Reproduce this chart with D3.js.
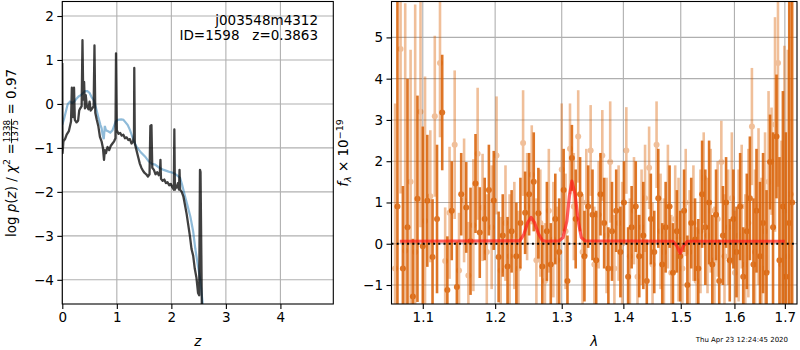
<!DOCTYPE html>
<html><head><meta charset="utf-8">
<script src="https://cdn.jsdelivr.net/npm/d3@7"></script>
<style>body{margin:0;background:#fff}svg{display:block}text{font-family:"DejaVu Sans",sans-serif;fill:#000}</style>
</head><body><svg id="c" width="800" height="350"></svg>
<script>
// ---- Left panel: log p(z) ----
const zDark=[0.000,0.005,0.02,0.05,0.08,0.12,0.16,0.175,0.19,0.205,0.215,0.23,0.26,0.29,0.31,0.33,0.355,0.37,0.385,0.40,0.415,0.43,0.45,0.48,0.50,0.52,0.55,0.575,0.59,0.605,0.63,0.66,0.69,0.72,0.745,0.765,0.78,0.80,0.83,0.86,0.89,0.92,0.95,0.975,0.985,1.0,1.03,1.06,1.09,1.12,1.15,1.18,1.21,1.24,1.27,1.30,1.315,1.32,1.33,1.36,1.39,1.42,1.45,1.48,1.51,1.54,1.57,1.60,1.615,1.625,1.635,1.65,1.68,1.71,1.74,1.77,1.79,1.80,1.81,1.84,1.87,1.90,1.93,1.96,1.99,2.02,2.045,2.055,2.065,2.08,2.10,2.12,2.14,2.15,2.16,2.19,2.22,2.25,2.28,2.31,2.34,2.37,2.40,2.43,2.46,2.49,2.51,2.525,2.535,2.56];
const logpDark=[0.93,-1.12,-0.85,-0.8,-0.7,-0.62,-0.4,0.37,-0.29,-0.3,0.37,-0.36,-0.42,-0.38,-0.15,-0.1,-0.05,1.45,0.1,0.5,-0.1,0.2,-0.05,-0.12,0.05,-0.15,-0.1,-0.05,1.33,-0.2,-0.35,-0.5,-0.75,-0.85,-1.0,-1.27,-1.05,-1.12,-0.98,-1.05,-0.95,-0.9,-0.85,-0.78,1.15,-0.6,-0.68,-0.66,-0.72,-0.7,-0.78,-0.76,-0.82,-0.8,-0.9,-0.85,-0.7,0.82,-0.9,-1.05,-1.2,-1.35,-1.45,-1.52,-1.57,-1.6,-1.65,-1.6,-0.5,-0.6,-0.48,-1.45,-1.5,-1.6,-1.55,-1.62,-1.55,-1.27,-1.7,-1.75,-1.72,-1.8,-1.78,-1.85,-1.82,-1.9,-1.95,-0.58,-1.95,-1.85,-1.9,-1.8,-1.95,-1.5,-1.95,-2.0,-2.1,-2.3,-2.5,-2.75,-3.0,-3.3,-3.45,-3.75,-3.95,-4.3,-4.35,-1.5,-1.55,-4.7];
const zBlue=[0.0,0.03,0.06,0.10,0.14,0.18,0.22,0.26,0.30,0.34,0.38,0.42,0.46,0.50,0.54,0.58,0.62,0.66,0.70,0.72,0.74,0.76,0.78,0.80,0.84,0.88,0.92,0.95,0.98,1.02,1.08,1.12,1.16,1.20,1.24,1.30,1.36,1.44,1.52,1.58,1.64,1.70,1.78,1.86,1.95,2.04,2.10,2.16,2.20,2.25,2.30,2.35,2.40,2.44,2.49,2.53,2.58];
const logpBlue=[-0.47,-0.35,-0.2,0.0,0.05,0.02,0.05,0.12,0.17,0.2,0.25,0.29,0.29,0.25,0.15,0.08,-0.1,-0.3,-0.48,-0.55,-0.7,-0.8,-0.5,-0.6,-0.62,-0.65,-0.6,-0.5,-0.4,-0.36,-0.35,-0.36,-0.42,-0.48,-0.59,-0.8,-0.97,-1.1,-1.2,-1.3,-1.36,-1.38,-1.45,-1.5,-1.54,-1.57,-1.62,-1.68,-1.85,-2.1,-2.33,-2.57,-2.9,-3.3,-3.7,-4.0,-4.6];
const leftXTicks=[0,1,2,3,4];
const leftYTicks=[-4,-3,-2,-1,0,1,2];

// ---- Right panel: spectrum ----
const waveA=[1.067,1.074,1.080,1.087,1.093,1.100,1.106,1.113,1.119,1.126,1.133,1.139,1.146,1.152,1.159,1.165,1.172,1.178,1.185,1.191,1.198,1.205,1.211,1.218,1.224,1.231,1.237,1.244,1.250,1.257,1.264,1.270,1.277,1.283,1.290,1.296,1.303,1.309,1.316,1.322,1.329,1.336,1.342,1.349,1.355,1.362,1.368,1.375,1.381,1.388,1.395,1.401,1.408,1.414,1.421,1.427,1.434,1.440,1.447,1.453,1.460,1.467,1.473,1.480,1.486,1.493,1.499,1.506,1.512,1.519,1.526,1.532,1.539,1.545,1.552,1.558,1.565,1.571,1.578,1.584,1.591,1.598,1.604,1.611,1.617,1.624,1.630,1.637,1.643,1.650,1.656,1.663,1.670,1.676,1.683,1.689,1.696,1.702,1.709,1.715];
const fluxA=[0.9,-0.6,0.4,-1.28,1.09,-0.06,1.04,-0.32,0.6,3.18,
-1.12,0.8,-1.05,1.2,0.88,0.06,1.46,0.27,0.6,1.3,
1.05,-0.32,0.2,-0.55,0.3,-0.3,0.5,0.75,1.2,1.5,
0.74,-0.55,0.3,-0.5,0.6,-0.2,1.3,-0.9,2.08,0.6,
1.2,-0.3,0.9,0.7,-0.4,1.2,0.5,-0.6,0.3,0.8,
-0.2,1.0,-0.8,0.4,0.9,-0.3,0.2,-0.9,0.6,-0.2,
1.1,-0.5,0.4,0.9,-0.7,0.3,-0.3,0.8,-1.0,0.5,
0.1,-0.6,1.2,0.4,1.0,-0.5,0.7,-0.9,0.2,1.0,
-0.4,0.6,-0.2,0.9,-0.8,0.3,1.1,-0.5,0.8,-0.3,
0.5,-0.7,1.98,0.4,2.6,-0.4,0.9,-0.8,0.5,1.0];
const errA=[9,2.0,3.6,1.4,2.5,2.9,1.6,1.4,1.8,1.4,
1.3,1.2,1.1,1.0,1.1,1.3,1.2,1.1,1.0,1.1,
1.2,1.1,1.0,1.2,1.0,1.3,1.1,1.0,1.0,1.2,
1.1,1.0,1.2,1.0,1.1,1.3,1.0,1.1,0.8,1.2,
0.9,1.1,1.0,1.1,1.2,1.0,1.1,1.0,1.2,1.0,
1.1,1.0,1.2,1.0,1.1,1.0,1.3,1.0,1.1,1.0,
1.2,1.0,1.1,1.0,1.2,1.0,1.1,1.0,1.2,1.1,
1.0,1.2,1.3,1.4,1.5,1.2,1.1,1.0,1.2,1.1,
1.0,1.2,1.1,1.3,1.2,1.4,1.5,1.6,1.5,1.8,
1.7,2.0,1.15,2.3,1.5,2.5,2.8,3.5,8,9];
const waveB=[1.064,1.071,1.077,1.084,1.090,1.097,1.103,1.110,1.116,1.123,1.130,1.136,1.143,1.149,1.156,1.162,1.169,1.175,1.182,1.188,1.195,1.202,1.208,1.215,1.221,1.228,1.234,1.241,1.247,1.254,1.261,1.267,1.274,1.280,1.287,1.293,1.300,1.306,1.313,1.319,1.326,1.333,1.339,1.346,1.352,1.359,1.365,1.372,1.378,1.385,1.392,1.398,1.405,1.411,1.418,1.424,1.431,1.437,1.444,1.450,1.457,1.464,1.470,1.477,1.483,1.490,1.496,1.503,1.509,1.516,1.523,1.529,1.536,1.542,1.549,1.555,1.562,1.568,1.575,1.581,1.588,1.595,1.601,1.608,1.614,1.621,1.627,1.634,1.640,1.647,1.653,1.660,1.667,1.673,1.680,1.686,1.693,1.699,1.706,1.712];
const fluxB=[-0.6,4.72,-0.17,1.5,-0.2,3.2,0.55,1.15,3.09,4.38,
-0.42,0.75,2.4,-0.65,1.05,-0.77,0.45,2.18,0.88,-0.2,
0.4,2.14,-0.65,0.5,-0.3,0.2,-0.6,2.44,0.9,1.67,
-0.4,0.5,-0.9,0.8,0.1,-0.4,1.8,0.3,2.3,0.9,
2.6,-0.2,1.0,2.26,-0.5,0.7,2.14,0.2,1.98,-0.6,
0.5,0.0,2.26,-0.3,0.8,-0.8,0.4,1.1,1.84,-0.5,
2.4,0.3,-0.2,0.9,-0.7,0.6,0.1,-0.6,1.0,-0.2,
0.5,-0.9,0.3,1.6,0.2,0.8,-0.4,0.6,1.98,-0.3,
0.4,1.1,-0.7,0.2,0.9,-0.5,0.5,2.84,-0.2,0.9,
-0.6,0.3,1.5,2.0,2.89,4.38,-0.5,0.8,-0.3,1.2];
const errB=[4.0,3.5,6.0,3.2,6.0,2.8,3.5,1.6,1.95,1.8,
1.3,1.6,1.8,1.4,1.5,1.3,1.6,1.6,1.3,1.4,
1.5,1.43,1.3,1.4,1.5,1.3,1.4,1.28,1.3,1.2,
1.5,1.3,1.4,1.5,1.4,1.3,1.6,1.4,1.1,1.3,
1.12,1.4,1.3,1.1,1.4,1.3,1.1,1.4,1.47,1.3,
1.4,1.5,1.05,1.4,1.3,1.5,1.4,1.3,1.0,1.5,
1.05,1.4,1.3,1.5,1.4,1.3,1.5,1.4,1.3,1.5,
1.4,1.3,1.5,1.1,1.4,1.5,1.3,1.4,1.0,1.5,
1.4,1.6,1.5,1.6,1.5,1.7,1.8,1.42,2.0,1.9,
2.2,2.4,2.2,1.3,2.6,3.0,3.0,4.0,5.0,6.0];
const modelWave=[1.070,1.236,1.242,1.248,1.253,1.258,1.264,1.270,1.276,1.296,1.302,1.308,1.312,1.316,1.321,1.326,1.331,1.337,1.486,1.493,1.499,1.505,1.512,1.700];
const modelFlux=[0.06,0.07,0.22,0.52,0.64,0.52,0.25,0.08,0.06,0.07,0.15,0.55,1.15,1.52,1.2,0.55,0.15,0.07,0.06,-0.05,-0.23,-0.05,0.06,0.06];
const rightXTicks=[1.1,1.2,1.3,1.4,1.5,1.6,1.7];
const rightYTicks=[-1,0,1,2,3,4,5];

const svg=d3.select("#c");
const FS=13.5;
const L={x0:62.3,x1:333.3,y0:1.5,y1:304};
const R={x0:391.5,x1:797,y0:1.5,y1:304};
const xL=d3.scaleLinear().domain([0,4.97]).range([L.x0,L.x1]);
const yL=d3.scaleLinear().domain([-4.55,2.33]).range([L.y1,L.y0]);
const xR=d3.scaleLog().domain([1.0594,1.725]).range([R.x0,R.x1]);
const yR=d3.scaleLinear().domain([-1.46,5.87]).range([R.y1,R.y0]);

const defs=svg.append("defs");
[["clipL",L],["clipR",R]].forEach(([id,b])=>{
  defs.append("clipPath").attr("id",id).append("rect").attr("x",b.x0).attr("y",b.y0).attr("width",b.x1-b.x0).attr("height",b.y1-b.y0);
});

function grid(b,xs,ys,xt,yt){
  const g=svg.append("g").attr("stroke","#b0b0b0").attr("stroke-width",1.1);
  xt.forEach(t=>g.append("line").attr("x1",xs(t)).attr("x2",xs(t)).attr("y1",b.y0).attr("y2",b.y1));
  yt.forEach(t=>g.append("line").attr("x1",b.x0).attr("x2",b.x1).attr("y1",ys(t)).attr("y2",ys(t)));
}
function axes(b,xs,ys,xt,yt,fx,fy){
  const ax=svg.append("g").attr("transform",`translate(0,${b.y1})`)
    .call(d3.axisBottom(xs).tickValues(xt).tickSize(5).tickPadding(3.5).tickFormat(fx));
  const ay=svg.append("g").attr("transform",`translate(${b.x0},0)`)
    .call(d3.axisLeft(ys).tickValues(yt).tickSize(5).tickPadding(3.5).tickFormat(fy));
  [ax,ay].forEach(a=>{a.select(".domain").remove();a.selectAll("text").attr("font-size",FS).attr("font-family","DejaVu Sans");a.selectAll("line").attr("stroke","#000").attr("stroke-width",1.1);});
  svg.append("rect").attr("x",b.x0).attr("y",b.y0).attr("width",b.x1-b.x0).attr("height",b.y1-b.y0)
    .attr("fill","none").attr("stroke","#000").attr("stroke-width",1.1);
}

// Left panel
grid(L,xL,yL,leftXTicks,leftYTicks);
const gL=svg.append("g").attr("clip-path","url(#clipL)");
const blue=d3.range(Math.min(zBlue.length,logpBlue.length)).map(i=>[zBlue[i],logpBlue[i]]);
const dark=d3.range(Math.min(zDark.length,logpDark.length)).map(i=>[zDark[i],logpDark[i]]);
gL.append("path").datum(blue).attr("d",d3.line().x(d=>xL(d[0])).y(d=>yL(d[1])))
  .attr("fill","none").attr("stroke","#1f77b4").attr("stroke-opacity",0.5).attr("stroke-width",2.2);
gL.append("path").datum(dark).attr("d",d3.line().x(d=>xL(d[0])).y(d=>yL(d[1])))
  .attr("fill","none").attr("stroke","#000").attr("stroke-opacity",0.75).attr("stroke-width",2.3).attr("stroke-linejoin","round");
axes(L,xL,yL,leftXTicks,leftYTicks,d3.format("d"),d3.format("d"));
svg.append("text").attr("x",318).attr("y",25).attr("text-anchor","end").attr("font-size",FS).text("j003548m4312");
svg.append("text").attr("x",318).attr("y",40).attr("text-anchor","end").attr("font-size",FS).style("white-space","pre").text("ID=1598   z=0.3863");
svg.append("text").attr("x",(L.x0+L.x1)/2).attr("y",346).attr("text-anchor","middle").attr("font-size",FS).attr("font-style","italic").text("z");

// left y label
{
  const g=svg.append("g").attr("transform","translate(15.5,153) rotate(-90)");
  const inner=g.append("g");
  const t1=inner.append("text").attr("x",0).attr("y",0).attr("font-size",FS);
  t1.append("tspan").text("log ");
  t1.append("tspan").attr("font-style","italic").text("p");
  t1.append("tspan").text("(");
  t1.append("tspan").attr("font-style","italic").text("z");
  t1.append("tspan").text(") / ");
  t1.append("tspan").attr("font-style","italic").text("χ");
  t1.append("tspan").attr("font-size",9.5).attr("dy",-5.5).text("2");
  t1.append("tspan").attr("dy",5.5).text(" = ");
  const w1=t1.node().getComputedTextLength();
  const num=inner.append("text").attr("font-size",8.8).attr("text-anchor","middle").text("1338");
  const den=inner.append("text").attr("font-size",8.8).attr("text-anchor","middle").text("1375");
  const wf=Math.max(num.node().getComputedTextLength(),den.node().getComputedTextLength())+2;
  num.attr("x",w1+wf/2).attr("y",-5.5);
  den.attr("x",w1+wf/2).attr("y",2.5);
  inner.append("line").attr("x1",w1).attr("x2",w1+wf).attr("y1",-4).attr("y2",-4).attr("stroke","#000").attr("stroke-width",0.8);
  const t2=inner.append("text").attr("x",w1+wf).attr("y",0).attr("font-size",FS).style("white-space","pre").text(" = 0.97");
  const W=w1+wf+t2.node().getComputedTextLength();
  inner.attr("transform",`translate(${-W/2},0)`);
}

// Right panel
grid(R,xR,yR,rightXTicks,rightYTicks);
const gR=svg.append("g").attr("clip-path","url(#clipR)");
const ORANGE="#d95f02";
function series(w,f,e,op){
  const n=Math.min(w.length,f.length,e.length);
  const d=d3.range(n).map(i=>({w:w[i],f:f[i],e:e[i]}));
  const g=gR.append("g").attr("opacity",op);
  g.selectAll("line").data(d).join("line")
    .attr("x1",p=>xR(p.w)).attr("x2",p=>xR(p.w))
    .attr("y1",p=>yR(p.f-p.e)).attr("y2",p=>yR(p.f+p.e))
    .attr("stroke",ORANGE).attr("stroke-width",2.6);
  g.selectAll("circle").data(d).join("circle")
    .attr("cx",p=>xR(p.w)).attr("cy",p=>yR(p.f)).attr("r",3).attr("fill",ORANGE);
}
series(waveB,fluxB,errB,0.4);
series(waveA,fluxA,errA,0.85);
const model=d3.range(Math.min(modelWave.length,modelFlux.length)).map(i=>[modelWave[i],modelFlux[i]]);
gR.append("path").datum(model).attr("d",d3.line().x(d=>xR(d[0])).y(d=>yR(d[1])))
  .attr("fill","none").attr("stroke","#ff1a1a").attr("stroke-opacity",0.7).attr("stroke-width",3.2).attr("stroke-linejoin","round");
gR.append("line").attr("x1",R.x0).attr("x2",R.x1).attr("y1",yR(0)).attr("y2",yR(0))
  .attr("stroke","#000").attr("stroke-width",2).attr("stroke-dasharray","2,3.2");
axes(R,xR,yR,rightXTicks,rightYTicks,d3.format(".1f"),d3.format("d"));
svg.append("text").attr("x",(R.x0+R.x1)/2).attr("y",346).attr("text-anchor","middle").attr("font-size",FS).attr("font-style","italic").text("λ");
{
  const t=svg.append("text").attr("transform","translate(348,153) rotate(-90)").attr("text-anchor","middle").attr("font-size",FS);
  t.append("tspan").attr("font-style","italic").text("f");
  t.append("tspan").attr("font-style","italic").attr("font-size",9.5).attr("dy",3).text("λ");
  t.append("tspan").attr("dy",-3).text(" × 10");
  t.append("tspan").attr("font-size",9.5).attr("dy",-5.5).text("−19");
}
svg.append("text").attr("x",788).attr("y",342).attr("text-anchor","end").attr("font-size",7).text("Thu Apr 23 12:24:45 2020");
</script></body></html>
